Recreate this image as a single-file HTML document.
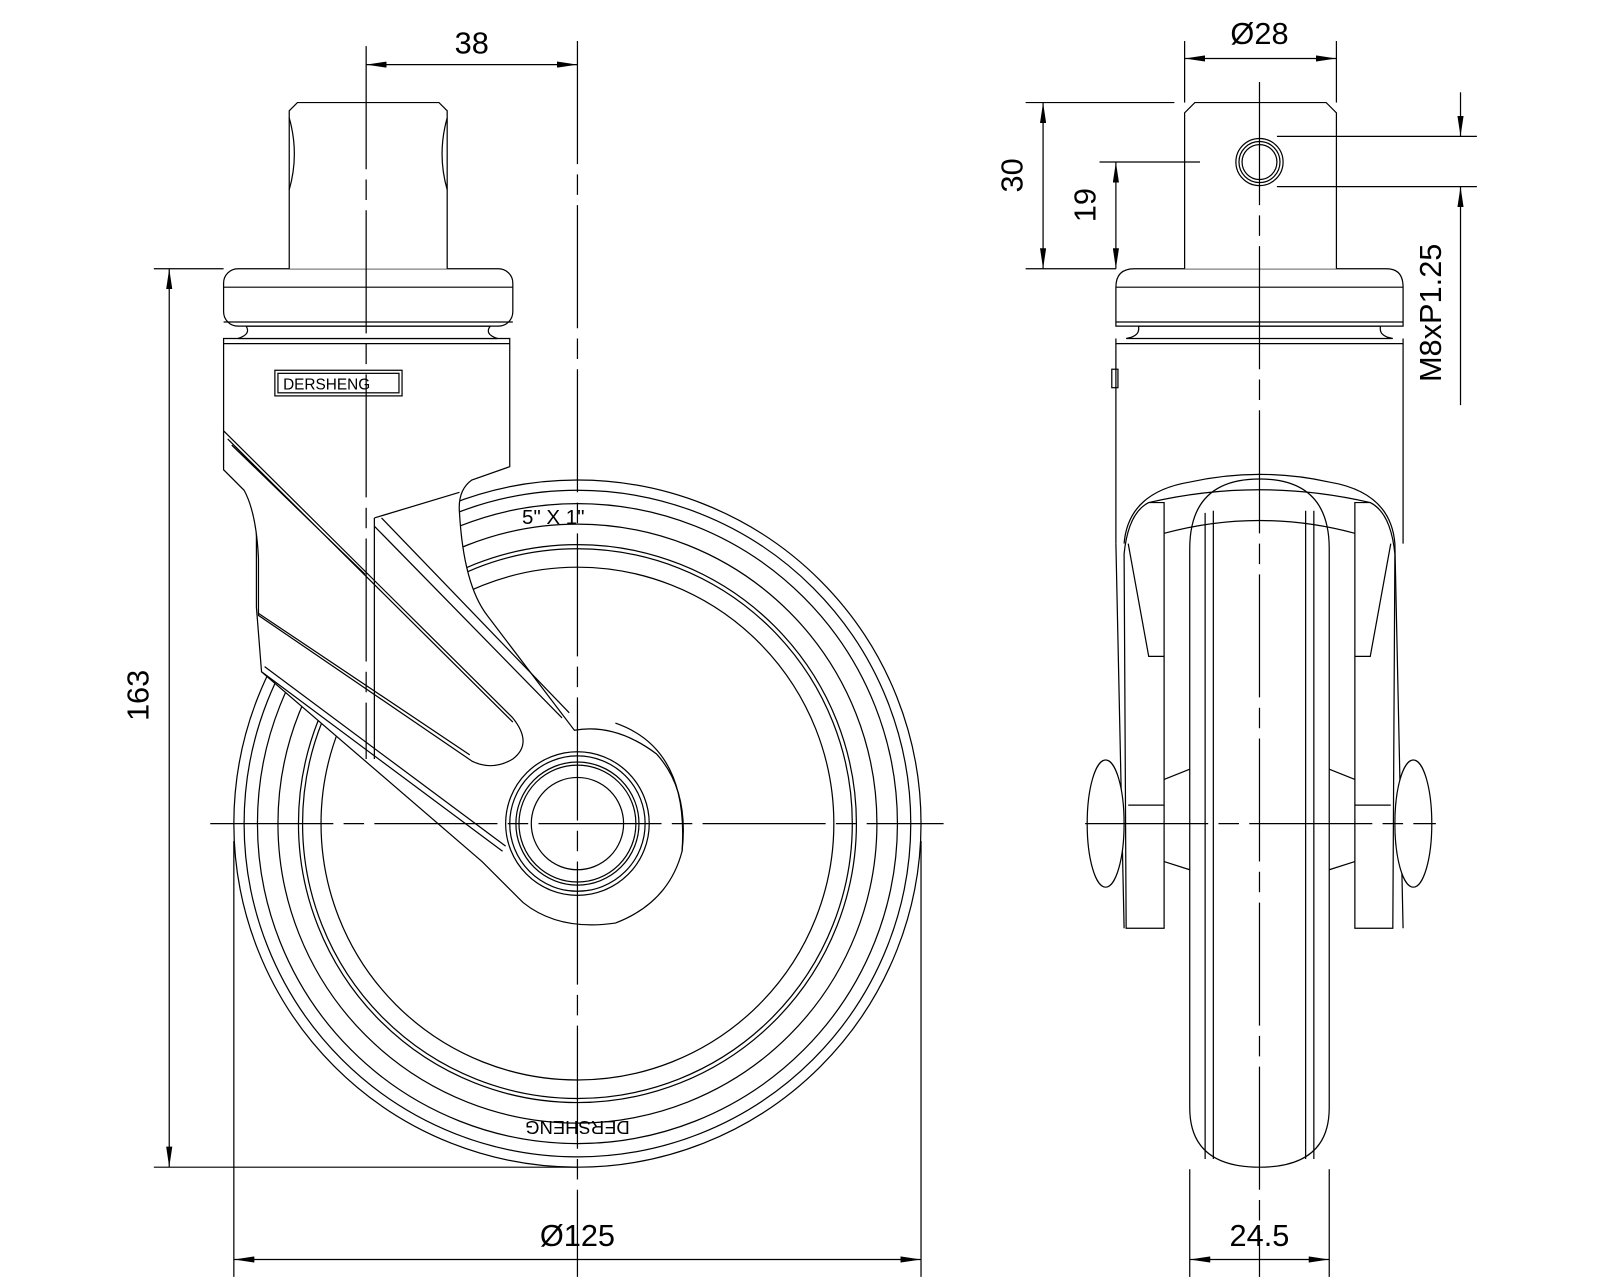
<!DOCTYPE html>
<html><head><meta charset="utf-8"><style>
html,body{margin:0;padding:0;background:#fff}
svg{display:block}
text{font-family:"Liberation Sans",sans-serif;fill:#000}
</style></head><body>
<svg width="1600" height="1280" viewBox="0 0 1560 1248" xmlns="http://www.w3.org/2000/svg">
<defs>
<marker id="a" viewBox="0 0 20 6" refX="20" refY="3" markerWidth="20" markerHeight="6" orient="auto-start-reverse" markerUnits="userSpaceOnUse"><path d="M0,0 L20,3 L0,6 Z" fill="#000"/></marker>
</defs>
<g fill="none" stroke="#000" stroke-width="1.2">
<!-- ===== LEFT VIEW ===== -->
<!-- wheel -->
<circle cx="563" cy="803" r="335"/>
<circle cx="563" cy="803" r="325"/>
<circle cx="563" cy="803" r="312"/>
<circle cx="563" cy="803" r="292"/>
<circle cx="563" cy="803" r="272"/>
<circle cx="563" cy="803" r="268"/>
<circle cx="563" cy="803" r="250"/>
<!-- fork / body (occluding) -->
<path fill="#fff" d="M218,330 L497,330 L497,455 L460,468 Q446,478 448,500 Q452,570 475,600 L560,712 Q600,705 640,735 Q672,770 665,830 Q652,880 600,900 Q545,908 510,880 L470,840 L255,655 L250,592 L250,496 Q250,470 232,460 L218,458 Z"/>
<path fill="#fff" d="M218,420 L500,700 Q520,725 500,740 Q480,752 460,742 L252,600 L252,545 Q250,500 238,478 L218,458 Z"/>
<path d="M222,428 L500,704 M226,434 L356,560 M252,598 L458,736"/>
<path d="M365,505 L365,740 M365,505 L448,480 M365,513 L548,700 M372,505 L555,695"/>
<path d="M255,655 L490,830 M258,650 L493,825"/>
<!-- hub -->
<circle cx="563" cy="803" r="70" fill="#fff"/>
<circle cx="563" cy="803" r="66"/>
<circle cx="563" cy="803" r="60"/>
<circle cx="563" cy="803" r="57"/>
<circle cx="563" cy="803" r="45"/>
<path d="M600,705 Q672,730 665,830"/>
<!-- neck, plate, stem -->
<path fill="#fff" d="M240,318 Q245,326 232,330 L485,330 Q472,326 478,318 Z"/>
<rect x="218" y="262" width="282" height="56" rx="14" fill="#fff"/>
<path d="M218,280 L500,280 M218,314 L500,314 M218,335 L497,335"/>
<path fill="#fff" d="M282,262 L282,108 L290,100 L428,100 L436,108 L436,262"/>
<path d="M282,115 Q292,150 282,185 M436,115 Q426,150 436,185"/>
<!-- logo -->
<rect x="268" y="361" width="124" height="25"/>
<rect x="271" y="364" width="118" height="19"/>
<text x="276" y="380" font-size="15" fill="#000" stroke="none">DERSHENG</text>
<text x="509" y="511" font-size="20" stroke="none" fill="#333">5"  X  1"</text>
<text x="563" y="1107" font-size="18" stroke="none" fill="#333" transform="rotate(180 563 1100)" text-anchor="middle">DERSHENG</text>

<!-- ===== RIGHT VIEW ===== -->
<!-- tire -->
<path d="M1160,1080 L1160,535 Q1160,467 1228,467 Q1296,467 1296,535 L1296,1080 Q1296,1138 1228,1138 Q1160,1138 1160,1080 Z"/>
<path d="M1175,500 L1175,1130 M1183,498 L1183,1130 M1281,498 L1281,1130 M1273,498 L1273,1130"/>
<!-- fork -->
<path d="M1096,530 Q1100,480 1160,470 Q1228,455 1296,470 Q1356,480 1360,530 L1368,905 M1088,530 L1096,905"/>
<path d="M1098,905 L1096,540 Q1100,500 1120,490 L1135,490 L1135,905 Z" fill="#fff"/>
<path d="M1358,905 L1360,540 Q1356,500 1336,490 L1321,490 L1321,905 Z" fill="#fff"/>
<path d="M1120,490 Q1228,465 1336,490 M1135,520 Q1228,495 1321,520"/>
<path d="M1100,530 L1120,640 L1135,640 M1356,530 L1336,640 L1321,640 M1100,785 L1135,785 M1356,785 L1321,785"/>
<path d="M1135,760 L1160,750 M1135,840 L1160,848 M1321,760 L1296,750 M1321,840 L1296,848"/>
<ellipse cx="1078" cy="803" rx="18" ry="62" fill="#fff"/>
<ellipse cx="1378" cy="803" rx="18" ry="62" fill="#fff"/>
<!-- body -->
<path d="M1088,330 L1088,530 M1368,330 L1368,530 M1088,335 L1368,335"/>
<rect x="1084" y="360" width="6" height="18"/>
<path fill="#fff" d="M1110,318 Q1112,328 1098,330 L1358,330 Q1344,328 1346,318 Z"/>
<path fill="#fff" d="M1088,318 L1088,280 Q1088,262 1106,262 L1352,262 Q1368,262 1368,280 L1368,318 Z"/>
<path d="M1088,280 L1368,280 M1088,314 L1368,314"/>
<path fill="#fff" d="M1155,262 L1155,110 L1165,100 L1293,100 L1303,110 L1303,262"/>
<circle cx="1228" cy="158" r="23"/>
<circle cx="1228" cy="158" r="20"/>
<circle cx="1228" cy="158" r="17"/>
</g>

<!-- center lines -->
<g stroke="#000" stroke-width="1.2" fill="none" stroke-dasharray="120,10,20,10">
<path d="M205,803 L920,803"/>
<path d="M1058,803 L1400,803"/>
<path d="M1228,80 L1228,1245"/>
<path d="M563,40 L563,1245"/>
<path d="M357,45 L357,740"/>
</g>

<!-- dimensions -->
<g stroke="#000" stroke-width="1.2" fill="none">
<line x1="357" y1="63" x2="563" y2="63" marker-start="url(#a)" marker-end="url(#a)"/>
<line x1="150" y1="262" x2="218" y2="262"/>
<line x1="150" y1="1138" x2="563" y2="1138"/>
<line x1="165" y1="262" x2="165" y2="1138" marker-start="url(#a)" marker-end="url(#a)"/>
<line x1="228" y1="820" x2="228" y2="1245"/>
<line x1="898" y1="820" x2="898" y2="1245"/>
<line x1="228" y1="1228" x2="898" y2="1228" marker-start="url(#a)" marker-end="url(#a)"/>
<line x1="1155" y1="40" x2="1155" y2="100"/>
<line x1="1303" y1="40" x2="1303" y2="100"/>
<line x1="1155" y1="57" x2="1303" y2="57" marker-start="url(#a)" marker-end="url(#a)"/>
<line x1="1000" y1="100" x2="1145" y2="100"/>
<line x1="1000" y1="262" x2="1088" y2="262"/>
<line x1="1017" y1="100" x2="1017" y2="262" marker-start="url(#a)" marker-end="url(#a)"/>
<line x1="1072" y1="158" x2="1170" y2="158"/>
<line x1="1088" y1="158" x2="1088" y2="262" marker-start="url(#a)" marker-end="url(#a)"/>
<line x1="1245" y1="133" x2="1440" y2="133"/>
<line x1="1245" y1="182" x2="1440" y2="182"/>
<line x1="1424" y1="90" x2="1424" y2="133" marker-end="url(#a)"/>
<line x1="1424" y1="395" x2="1424" y2="182" marker-end="url(#a)"/>
<line x1="1160" y1="1140" x2="1160" y2="1245"/>
<line x1="1296" y1="1140" x2="1296" y2="1245"/>
<line x1="1160" y1="1228" x2="1296" y2="1228" marker-start="url(#a)" marker-end="url(#a)"/>
</g>
<g font-size="30">
<text x="460" y="52" text-anchor="middle">38</text>
<text x="157" y="690" text-anchor="middle" transform="rotate(-90 145 690)">163</text>
<text x="563" y="1215" text-anchor="middle">Ø125</text>
<text x="1228" y="43" text-anchor="middle">Ø28</text>
<text x="1007" y="181" text-anchor="middle" transform="rotate(-90 997 181)">30</text>
<text x="1078" y="210" text-anchor="middle" transform="rotate(-90 1068 210)">19</text>
<text x="1415" y="315" text-anchor="middle" transform="rotate(-90 1405 315)">M8xP1.25</text>
<text x="1228" y="1215" text-anchor="middle">24.5</text>
</g>
</svg>
</body></html>
